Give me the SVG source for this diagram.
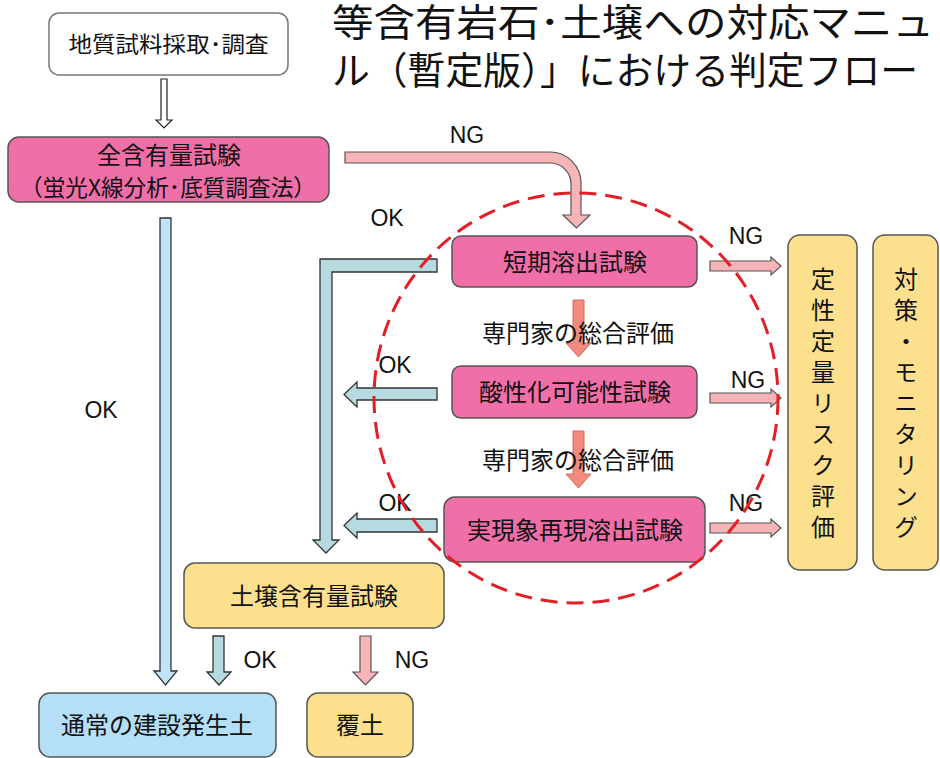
<svg xmlns="http://www.w3.org/2000/svg" width="940" height="758" viewBox="0 0 940 758">
<style>
text{font-family:"Noto Sans CJK JP","Liberation Sans",sans-serif;fill:#111;}
.lbl{font-family:"Liberation Sans","Noto Sans CJK JP",sans-serif;font-size:23px;text-anchor:middle;}
.t24{font-size:24px;text-anchor:middle;}
.vt{font-size:24px;writing-mode:vertical-rl;letter-spacing:7px;}
.pink{fill:#f06fa9;stroke:#555;stroke-width:1.5;}
.yel{fill:#fde08e;stroke:#555;stroke-width:1.5;}
.blu{fill:#b4dff6;stroke:#555;stroke-width:1.5;}
.wht{fill:#fff;stroke:#777;stroke-width:1.5;}
.ng{fill:#f7b5b8;stroke:#555;stroke-width:1.2;}
.sal{fill:#f28b7e;stroke:#d06a60;stroke-width:1;}
.teal{fill:#b5dbe0;stroke:#333;stroke-width:1.3;}
.lb{fill:#bfe3f7;stroke:#333;stroke-width:1.3;}
.wa{fill:#fff;stroke:#222;stroke-width:1.2;}
</style>

<g id="title">
<text font-size="38"><tspan x="332" y="36" textLength="602" lengthAdjust="spacingAndGlyphs">等含有岩石･土壌への対応マニュ</tspan><tspan x="332" y="84" textLength="586" lengthAdjust="spacingAndGlyphs">ル（暫定版）」における判定フロー</tspan></text>
</g>

<g id="connectors">
<polygon class="wa" points="161,79 167,79 167,120 172,120 164,128 156,120 161,120"/>
<path class="ng" d="M345,152 H550 A31,31 0 0 1 581,183 V215 H590 L576.5,228 L563,215 H571 V184 A21,21 0 0 0 550,163 H345 Z"/>
<polygon class="lb" points="160,218 171,218 171,671 177,671 165.5,685 154,671 160,671"/>
<polygon class="teal" points="437,259 320,259 320,540 313,540 326,553 339,540 332,540 332,272 437,272"/>
<polygon class="teal" points="437,388 357,388 357,382 344,394.5 357,407 357,400 437,400"/>
<polygon class="teal" points="437,519 357,519 357,513 344,525.5 357,538 357,532 437,532"/>
<polygon class="ng" points="710,261 771,261 771,257 781,266 771,275 771,271 710,271"/>
<polygon class="ng" points="710,393 771,393 771,389 781,398 771,407 771,403 710,403"/>
<polygon class="ng" points="710,523 771,523 771,519 781,528 771,537 771,533 710,533"/>
<polygon class="teal" points="213,636 224,636 224,672 231,672 219,685 207,672 213,672"/>
<polygon class="ng" points="360,636 371,636 371,672 378,672 365.5,685 353,672 360,672"/>
<text class="lbl" x="467" y="143">NG</text>
<text class="lbl" x="387" y="226">OK</text>
<text class="lbl" x="101" y="418">OK</text>
<text class="lbl" x="395" y="373">OK</text>
<text class="lbl" x="395" y="511">OK</text>
<text class="lbl" x="746" y="244">NG</text>
<text class="lbl" x="748" y="388">NG</text>
<text class="lbl" x="746" y="511">NG</text>
<text class="lbl" x="260" y="668">OK</text>
<text class="lbl" x="412" y="668">NG</text>
<polygon class="sal" points="573,300 584,300 584,343 591,343 578.5,357 566,343 573,343"/>
<polygon class="sal" points="573,431 584,431 584,474 591,474 578.5,488 566,474 573,474"/>
<text class="t24" x="578" y="342">専門家の総合評価</text>
<text class="t24" x="578" y="469">専門家の総合評価</text>
</g>

<g id="n-survey">
<rect class="wht" x="49" y="13" width="239" height="62" rx="10"/>
<text x="168.5" y="52" font-size="22" text-anchor="middle" textLength="200" lengthAdjust="spacingAndGlyphs">地質試料採取･調査</text>
</g>

<g id="n-total">
<rect class="pink" x="8" y="137" width="321" height="65" rx="11"/>
<text class="t24" x="169" y="164">全含有量試験</text>
<text x="168" y="196" font-size="23" text-anchor="middle" textLength="296" lengthAdjust="spacingAndGlyphs">（蛍光X線分析･底質調査法）</text>
</g>

<g id="n-short">
<rect class="pink" x="452" y="236" width="245" height="51" rx="9"/>
<text class="t24" x="575" y="271">短期溶出試験</text>
</g>

<g id="n-acid">
<rect class="pink" x="452" y="366" width="245" height="52" rx="9"/>
<text class="t24" x="575" y="401">酸性化可能性試験</text>
</g>

<g id="n-real">
<rect class="pink" x="444" y="497" width="261" height="65" rx="11"/>
<text class="t24" x="575" y="539">実現象再現溶出試験</text>
</g>

<g id="n-risk">
<rect class="yel" x="788" y="235" width="69" height="335" rx="12"/>
<text class="vt" x="823" y="267">定性定量リスク評価</text>
</g>

<g id="n-measure">
<rect class="yel" x="873" y="235" width="65" height="335" rx="12"/>
<text class="vt" x="906" y="267">対策・モニタリング</text>
</g>

<g id="n-soil">
<rect class="yel" x="184" y="563" width="260" height="65" rx="11"/>
<text class="t24" x="314" y="605">土壌含有量試験</text>
</g>

<g id="n-normal">
<rect class="blu" x="39" y="693" width="237" height="64" rx="11"/>
<text class="t24" x="157" y="734">通常の建設発生土</text>
</g>

<g id="n-cover">
<rect class="yel" x="307" y="693" width="106" height="64" rx="11"/>
<text class="t24" x="360" y="734">覆土</text>
</g>

<g id="focus-circle">
<ellipse cx="576" cy="398" rx="202" ry="205" fill="none" stroke="#e31e24" stroke-width="3" stroke-dasharray="17 9"/>
</g>
</svg>
